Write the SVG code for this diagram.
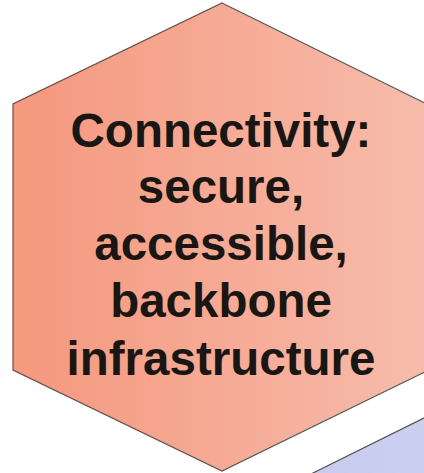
<svg xmlns="http://www.w3.org/2000/svg" width="424" height="473" viewBox="0 0 424 473">
<defs>
<linearGradient id="gOrange" x1="0" y1="0" x2="1" y2="0">
<stop offset="0" stop-color="#f5987e"/>
<stop offset="1" stop-color="#f7bcac"/>
</linearGradient>
<linearGradient id="gBlue" x1="0" y1="0" x2="1" y2="0">
<stop offset="0" stop-color="#c6cbef"/>
<stop offset="1" stop-color="#ccd0f1"/>
</linearGradient>
</defs>
<style>
.hex{stroke:#5a5654;stroke-width:1.2;stroke-linejoin:miter}
.lbl{font-family:"Liberation Sans",Arial,sans-serif;font-weight:bold;font-size:47.5px;fill:#1a1614;text-anchor:middle}
</style>
<rect width="424" height="473" fill="#ffffff"/>
<g id="node-blue">
<polygon class="hex" fill="url(#gBlue)" points="311,474 425,417.5 440,417.5 440,490 300,490"/>
</g>
<g id="node-connectivity">
<polygon class="hex" fill="url(#gOrange)" points="222,3 431,106 431,369 222,471 13,370 13,104"/>
<text class="lbl" x="221" y="147">Connectivity:</text>
<text class="lbl" x="221" y="203">secure,</text>
<text class="lbl" x="221" y="260">accessible,</text>
<text class="lbl" x="221" y="317">backbone</text>
<text class="lbl" x="221" y="375">infrastructure</text>
</g>
<g id="connectors"></g>
</svg>
